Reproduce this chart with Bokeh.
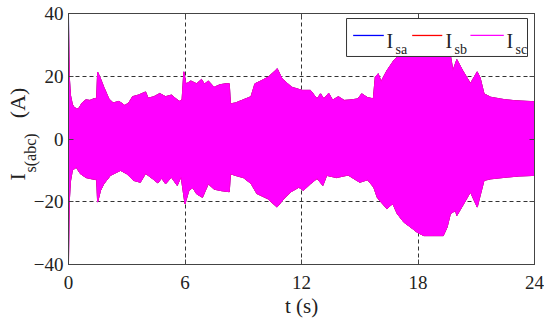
import numpy as np
from bokeh.plotting import figure
from bokeh.models import Range1d, FixedTicker, LinearAxis, Title
from bokeh.core.properties import value
from bokeh.embed import file_html
from bokeh.resources import INLINE

# ---- data (envelope of the three stator currents) ----
t_up = [0.00, 0.04, 0.10, 0.20, 0.30, 0.50, 0.70, 0.90, 1.10, 1.30, 1.45, 1.50, 1.65, 1.82, 2.08,
        2.30, 2.60, 2.90, 3.10, 3.30, 3.60, 3.97, 4.10, 4.40, 4.70, 5.00, 5.30, 5.50, 5.70, 5.85,
        5.94, 6.05, 6.30, 6.60, 6.85, 7.00, 7.20, 7.50, 7.80, 8.10, 8.28, 8.34, 8.60, 9.00, 9.40,
        9.60, 9.90, 10.30, 10.60, 10.75, 11.00, 11.50, 12.03, 12.46, 12.80, 12.98, 13.15, 13.40,
        13.60, 13.90, 14.20, 14.60, 14.90, 15.10, 15.40, 15.70, 15.80, 15.95, 16.10, 16.40, 16.75,
        17.10, 17.50, 18.00, 18.50, 19.00, 19.45, 19.67, 19.80, 20.00, 20.30, 20.70, 21.05, 21.20,
        21.40, 21.75, 22.40, 23.00, 23.60, 24.00]
i_up = [35, 20, 14, 11, 10, 9.5, 11.5, 12.5, 12.3, 12.8, 13, 21.3, 19.2, 16.5, 12.8,
        11.5, 12, 10.7, 11.5, 13.5, 14, 15, 13, 13.5, 14.5, 13.5, 14, 13, 12, 12.5,
        21.4, 17.5, 18.5, 17.6, 19, 17.5, 18.5, 16.5, 17.3, 17.6, 17.6, 11.2, 11.5, 12.5, 13.5,
        17.6, 18.5, 19.8, 21.5, 22.4, 19.2, 16.5, 15.5, 15.5, 12.8, 14.4, 12.8, 14.6,
        12.4, 13.5, 12.3, 12.5, 12.8, 14.4, 13.2, 12.8, 19.8, 20.8, 18.3, 21.8, 25,
        27.2, 29.5, 30.5, 31, 30.5, 28.5, 26.6, 21.8, 25.3, 21.8, 17.7, 21.4, 19.5,
        14.4, 13.3, 12.6, 12.2, 12.0, 11.9]

t_lo = [0.00, 0.04, 0.10, 0.20, 0.40, 0.60, 0.90, 1.20, 1.45, 1.50, 1.65, 1.82, 2.16, 2.68, 3.00,
        3.35, 3.70, 3.97, 4.30, 4.60, 4.80, 5.00, 5.30, 5.60, 5.80, 6.00, 6.20, 6.40, 6.60, 6.90,
        7.20, 7.50, 7.90, 8.28, 8.34, 8.70, 9.00, 9.40, 9.70, 10.25, 10.74, 11.10, 11.44, 11.86,
        12.10, 12.46, 12.80, 13.10, 13.30, 13.80, 14.40, 15.00, 15.40, 15.72, 15.90, 16.05, 16.40,
        16.70, 16.93, 17.27, 17.62, 17.95, 18.30, 18.80, 19.30, 19.50, 19.67, 19.93, 20.00, 20.35,
        20.70, 21.05, 21.40, 21.75, 22.50, 23.20, 24.00]
i_lo = [-40, -20, -13.5, -10, -9, -11, -12.3, -12.7, -13, -20.1, -16.4, -14.3, -11.6, -10, -11.1,
        -13.2, -13.8, -11, -12.5, -14, -12.5, -14.3, -12.2, -14.8, -12, -20.7, -16.4, -15.5, -17.5, -18.6,
        -14.3, -16, -16.5, -16.8, -11.1, -11.8, -12.3, -14.2, -17.4, -19, -21.7, -19, -16.9, -15.4,
        -16.4, -14.3, -12.6, -14.8, -11.6, -12.3, -11.5, -13.8, -13, -15.4, -18.6, -19.8, -22.2,
        -20.6, -23.8, -26.5, -28.1, -29.7, -30.8, -30.8, -30.8, -28.1, -23.8, -22.8, -24.4, -20.7,
        -16.9, -21.7, -13.2, -12.7, -12.2, -11.8, -11.6]

phases = ["sa", "sb", "sc"]
start_peak_hi = [40, 37, 35]      # first-instant peak of each phase
start_peak_lo = [-38, -39, -40]
colors = ["#0000FF", "#FF0000", "#FF00FF"]

x_ticks = [0, 6, 12, 18, 24]
y_ticks = [-40, -20, 0, 20, 40]

FONT = "Liberation Serif"

p = figure(frame_width=466, frame_height=251, output_backend="svg", toolbar_location=None,
           x_range=Range1d(0, 24), y_range=Range1d(-40, 40),
           min_border_left=68, min_border_right=10, min_border_top=13, min_border_bottom=56)
p.background_fill_color = "white"
p.border_fill_color = "white"
p.outline_line_color = "#444444"
p.outline_line_width = 1

for k, ph in enumerate(phases):
    up = [start_peak_hi[k]] + i_up[1:]
    lo = [start_peak_lo[k]] + i_lo[1:]
    xs = t_up + t_lo[::-1]
    ys = up + lo[::-1]
    p.patch(xs, ys, fill_color=colors[k], line_color=colors[k], line_width=0.8)

# axes styling
for ax in [p.xaxis[0], p.yaxis[0]]:
    ax.major_label_text_font = FONT
    ax.major_label_text_font_size = "19px"
    ax.major_label_text_color = "#222222"
    ax.major_tick_in = 5
    ax.major_tick_out = 0
    ax.minor_tick_in = 0
    ax.minor_tick_out = 0
    ax.axis_line_color = "#444444"
    ax.major_tick_line_color = "#444444"
    ax.axis_label_text_font = FONT
    ax.axis_label_text_font_style = "normal"
p.xaxis[0].ticker = FixedTicker(ticks=x_ticks)
p.yaxis[0].ticker = FixedTicker(ticks=y_ticks)
p.xaxis[0].major_label_standoff = 11
p.yaxis[0].major_label_standoff = 5
p.xaxis[0].axis_label = "t (s)"
p.xaxis[0].axis_label_text_font_size = "21px"
p.xaxis[0].axis_label_standoff = 2
p.xaxis[0].axis_label_text_color = "#222222"

for loc, tk in [("above", x_ticks), ("right", y_ticks)]:
    ax = LinearAxis(ticker=FixedTicker(ticks=tk), major_label_text_font_size="1px",
                    major_label_overrides={t: "" for t in tk},
                    major_tick_in=5, major_tick_out=0, minor_tick_in=0, minor_tick_out=0,
                    axis_line_color="#444444", major_tick_line_color="#444444",
                    major_label_standoff=0)
    p.add_layout(ax, loc)

p.xgrid[0].ticker = FixedTicker(ticks=x_ticks)
p.ygrid[0].ticker = FixedTicker(ticks=y_ticks)
p.grid.grid_line_color = "#333333"
p.grid.grid_line_dash = "4 3"
p.grid.grid_line_width = 1

# y-axis label "I_s(abc) (A)": subscript column next to the axis, main text outside it
p.add_layout(Title(text="s(abc)", align="left", offset=92, standoff=-16,
                   text_font=FONT, text_font_size="16px", text_font_style="normal",
                   text_color="#222222"), "left")
p.add_layout(Title(text="I" + "\u00a0" * 10 + "(A)", align="left", offset=84, standoff=-5,
                   text_font=FONT, text_font_size="22px", text_font_style="normal",
                   text_color="#222222"), "left")

# legend (box, sample lines, labels) in plot coordinates
LEG = dict(left=14.32, right=23.64, top=38.4, bottom=26.3, line_y=33.0,
           seg=[(14.66, 16.24), (17.70, 19.25), (20.70, 22.42)],
           i_x=[16.38, 19.42, 22.56], sub_x=[16.84, 19.88, 23.02],
           i_y=31.3, sub_y=28.6)
p.quad(left=[LEG["left"]], right=[LEG["right"]], top=[LEG["top"]], bottom=[LEG["bottom"]],
       fill_color="white", line_color="#333333", line_width=1, level="overlay")
for k, ph in enumerate(phases):
    x0, x1 = LEG["seg"][k]
    p.segment(x0=[x0], y0=[LEG["line_y"]], x1=[x1], y1=[LEG["line_y"]],
              line_color=colors[k], line_width=1.3, level="overlay")
    p.text(x=[LEG["i_x"][k]], y=[LEG["i_y"]], text=["I"], text_font=value(FONT),
           text_font_size=value("20px"), text_baseline="alphabetic", text_color="#222222",
           level="overlay")
    p.text(x=[LEG["sub_x"][k]], y=[LEG["sub_y"]], text=[ph], text_font=value(FONT),
           text_font_size=value("14px"), text_baseline="alphabetic", text_color="#222222",
           level="overlay")

open("out.html", "w").write(file_html(p, INLINE))
